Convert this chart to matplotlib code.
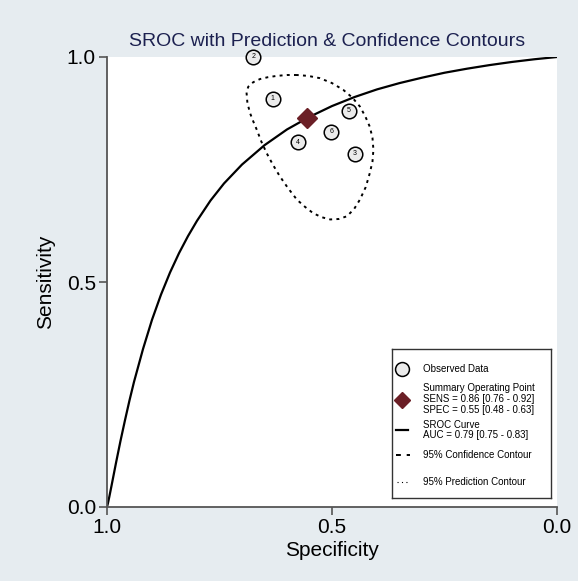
import numpy as np
import matplotlib.pyplot as plt

plt.rcParams['font.family'] = ['Liberation Sans', 'DejaVu Sans']

# Observed studies (specificity, sensitivity)
study_ids = ['1', '2', '3', '4', '5', '6']
study_spec = [0.632, 0.675, 0.449, 0.575, 0.462, 0.502]
study_sens = [0.907, 1.000, 0.785, 0.811, 0.881, 0.834]

# Summary operating point
summ_spec = 0.556
summ_sens = 0.864

# SROC curve
sroc_spec = [1.0, 0.998, 0.995, 0.99, 0.98, 0.97, 0.96, 0.95, 0.94, 0.92,
             0.90, 0.88, 0.86, 0.84, 0.82, 0.80, 0.77, 0.74, 0.70, 0.65,
             0.60, 0.55, 0.50, 0.45, 0.40, 0.35, 0.30, 0.25, 0.20, 0.15,
             0.10, 0.05, 0.02, 0.0]
sroc_sens = [0.0, 0.008, 0.022, 0.047, 0.098, 0.147, 0.193, 0.237, 0.278, 0.351,
             0.416, 0.472, 0.521, 0.564, 0.602, 0.636, 0.681, 0.719, 0.761, 0.804,
             0.839, 0.867, 0.891, 0.911, 0.928, 0.942, 0.954, 0.965, 0.974, 0.982,
             0.989, 0.995, 0.998, 1.0]

# Contour
cont_spec = [0.578, 0.600, 0.623, 0.643, 0.660, 0.675, 0.686, 0.690, 0.688, 0.682,
             0.675, 0.667, 0.657, 0.645, 0.631, 0.616, 0.598, 0.578, 0.560, 0.542,
             0.523, 0.504, 0.485, 0.467, 0.451, 0.438, 0.425, 0.416, 0.410, 0.408,
             0.410, 0.416, 0.426, 0.438, 0.455, 0.475, 0.500, 0.527, 0.553]
cont_sens = [0.960, 0.960, 0.958, 0.955, 0.951, 0.944, 0.934, 0.922, 0.898, 0.875,
             0.857, 0.838, 0.812, 0.786, 0.760, 0.735, 0.709, 0.683, 0.667, 0.653,
             0.644, 0.639, 0.640, 0.646, 0.662, 0.683, 0.711, 0.742, 0.768, 0.794,
             0.820, 0.845, 0.868, 0.890, 0.910, 0.927, 0.942, 0.953, 0.958]

bg = '#e6ecf0'
maroon = '#6b1f26'

fig = plt.figure(figsize=(5.78, 5.81), dpi=100, facecolor=bg)
ax = fig.add_axes([107 / 578, 1 - 507 / 581, 450 / 578, 450 / 581])
ax.set_facecolor('white')

ax.plot(sroc_spec, sroc_sens, color='black', lw=1.6, zorder=2,
        solid_joinstyle='round')
ax.plot(cont_spec + cont_spec[:1], cont_sens + cont_sens[:1], color='black',
        lw=1.4, linestyle=(0, (1.5, 2.2)), zorder=2)

ax.scatter(study_spec, study_sens, s=110, facecolor='#ebebeb', edgecolor='black',
           linewidth=1.1, zorder=3, clip_on=False)
for sid, x, y in zip(study_ids, study_spec, study_sens):
    ax.text(x, y, sid, fontsize=5, ha='center', va='center', zorder=4)
ax.plot(summ_spec, summ_sens, marker='D', markersize=10, color=maroon, zorder=4)

ax.set_xlim(1.0, 0.0)
ax.set_ylim(0.0, 1.0)
ax.set_xticks([1.0, 0.5, 0.0])
ax.set_yticks([0.0, 0.5, 1.0])
ax.set_xticklabels(['1.0', '0.5', '0.0'])
ax.set_yticklabels(['0.0', '0.5', '1.0'])
ax.tick_params(labelsize=15, length=6, width=1.2, color='#555555', pad=2)
for side in ['top', 'right']:
    ax.spines[side].set_visible(False)
for side in ['left', 'bottom']:
    ax.spines[side].set_color('#555555')
    ax.spines[side].set_linewidth(1.3)

ax.set_xlabel('Specificity', fontsize=15, labelpad=3)
ax.set_ylabel('Sensitivity', fontsize=15, labelpad=8)
fig.text(327 / 578, 1 - 42 / 581, 'SROC with Prediction & Confidence Contours',
         fontsize=14, color='#1c2150', ha='center', va='center')

# legend box
lg = fig.add_axes([392 / 578, 1 - 498 / 581, 159 / 578, 149 / 581])
lg.set_xlim(392, 551)
lg.set_ylim(498, 349)
lg.set_xticks([])
lg.set_yticks([])
lg.set_facecolor('white')
for s in lg.spines.values():
    s.set_linewidth(1.0)
    s.set_color('#333333')

tx = 423
fs = 7
lg.plot(402, 369, marker='o', markersize=10, markerfacecolor='#ebebeb',
        markeredgecolor='black', markeredgewidth=1.1)
lg.text(tx, 369, 'Observed Data', fontsize=fs, va='center')
lg.plot(402, 400, marker='D', markersize=8, color=maroon)
lg.text(tx, 388, 'Summary Operating Point', fontsize=fs, va='center')
lg.text(tx, 399, 'SENS = 0.86 [0.76 - 0.92]', fontsize=fs, va='center')
lg.text(tx, 410, 'SPEC = 0.55 [0.48 - 0.63]', fontsize=fs, va='center')
lg.plot([396, 408], [430, 430], color='black', lw=1.6)
lg.text(tx, 425, 'SROC Curve', fontsize=fs, va='center')
lg.text(tx, 435, 'AUC = 0.79 [0.75 - 0.83]', fontsize=fs, va='center')
lg.plot([396, 410], [455, 455], color='black', lw=1.4, linestyle=(0, (2.5, 3)))
lg.text(tx, 455, '95% Confidence Contour', fontsize=fs, va='center')
lg.plot([397, 407], [482, 482], color='black', lw=0.8, linestyle=(0, (1, 3)))
lg.text(tx, 482, '95% Prediction Contour', fontsize=fs, va='center')

fig.savefig('out.png', dpi=100, facecolor=bg)
